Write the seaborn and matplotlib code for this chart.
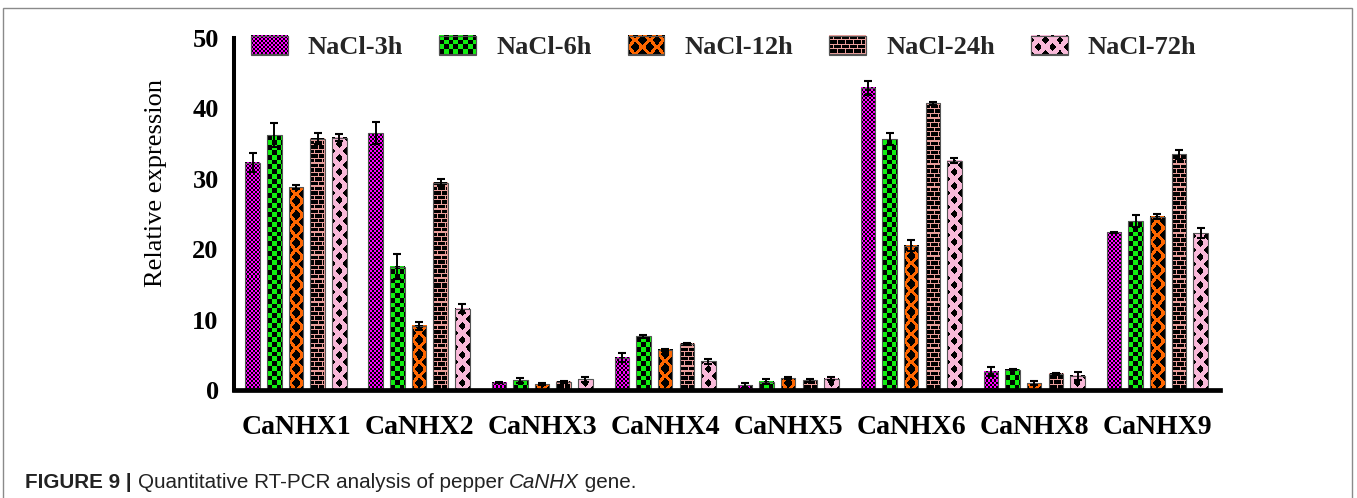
import numpy as np
import pandas as pd
import matplotlib
matplotlib.use("Agg")
import matplotlib.pyplot as plt
import seaborn as sns
from matplotlib import colors as mcolors
from matplotlib import font_manager as fm
from matplotlib.patches import Rectangle

# ---------------- data ----------------
genes = ["CaNHX1", "CaNHX2", "CaNHX3", "CaNHX4", "CaNHX5", "CaNHX6", "CaNHX8", "CaNHX9"]
treatments = ["NaCl-3h", "NaCl-6h", "NaCl-12h", "NaCl-24h", "NaCl-72h"]

nacl_3h = [32.3, 36.5, 1.05, 4.6, 0.65, 42.9, 2.6, 22.4]
nacl_6h = [36.2, 17.5, 1.35, 7.65, 1.2, 35.6, 2.9, 24.0]
nacl_12h = [28.8, 9.1, 0.85, 5.7, 1.7, 20.5, 0.95, 24.6]
nacl_24h = [35.7, 29.45, 1.15, 6.55, 1.35, 40.75, 2.3, 33.5]
nacl_72h = [35.85, 11.55, 1.5, 4.05, 1.6, 32.55, 2.05, 22.3]

sd_3h = [1.4, 1.55, 0.1, 0.6, 0.3, 1.05, 0.6, 0.05]
sd_6h = [1.7, 1.8, 0.33, 0.2, 0.33, 0.85, 0.1, 0.9]
sd_12h = [0.25, 0.6, 0.1, 0.15, 0.2, 0.75, 0.28, 0.35]
sd_24h = [0.8, 0.5, 0.1, 0.1, 0.15, 0.2, 0.15, 0.65]
sd_72h = [0.55, 0.6, 0.3, 0.3, 0.2, 0.35, 0.57, 0.7]

yticks = [0, 10, 20, 30, 40, 50]

values = [nacl_3h, nacl_6h, nacl_12h, nacl_24h, nacl_72h]
errors = [sd_3h, sd_6h, sd_12h, sd_24h, sd_72h]

colors = ["#ff00ff", "#11ee11", "#ff6600", "#eba09c", "#f9b9d9"]
patterns = ["fine", "checker", "diamond_big", "brick", "diamond"]

df = pd.DataFrame(
    {
        "gene": np.tile(genes, len(treatments)),
        "treatment": np.repeat(treatments, len(genes)),
        "value": np.concatenate(values),
    }
)

# ---------------- style ----------------
sns.set_style("white")
plt.rcParams["font.family"] = ["Liberation Serif", "DejaVu Serif"]

avail = {f.name for f in fm.fontManager.ttflist}
cap_family = "Liberation Sans Narrow" if "Liberation Sans Narrow" in avail else "Liberation Sans"

W, H = 1357, 498
AX_L, AX_R, AX_B, AX_T = 234, 1220, 390, 38
fig = plt.figure(figsize=(W / 100, H / 100), dpi=100)
fig.patch.set_facecolor("white")
ax = fig.add_axes([AX_L / W, 1 - AX_B / H, (AX_R - AX_L) / W, (AX_B - AX_T) / H])

sns.barplot(
    data=df, x="gene", y="value", hue="treatment", palette=colors,
    width=0.88, gap=0.33, errorbar=None, saturation=1,
    edgecolor="#555555", linewidth=0.8, ax=ax,
)

XLIM = (-0.504, 7.51)
ax.set_xlim(*XLIM)
ax.set_ylim(0, 50)

bar_containers = list(ax.containers)


def pattern(kind, color, w, h):
    c = np.array(mcolors.to_rgb(color))
    yy, xx = np.mgrid[0:h, 0:w].astype(float) + 0.5
    if kind == "fine":
        s = 2.0
        col = ((xx // s).astype(int) + (yy // s).astype(int)) % 2 == 0
    elif kind == "checker":
        s = 4.8
        col = ((xx // s).astype(int) + (yy // s).astype(int)) % 2 == 1
    elif kind in ("diamond", "diamond_big"):
        P, V = 14.5, 14.0
        rx, ry = (3.6, 4.2) if kind == "diamond" else (4.6, 5.4)
        dxc = np.abs((xx % P) - P / 2)
        dxe = np.abs(((xx + P / 2) % P) - P / 2)
        dyc = np.abs((yy % V) - V / 2)
        dye = np.abs(((yy + V / 2) % V) - V / 2)
        black = (dxc / rx + dyc / ry < 1) | (dxe / rx + dye / ry < 1)
        col = ~black
    else:  # brick
        R, B = 4.6, 8.0
        row = (yy // R).astype(int)
        mh = (yy % R) < 1.2
        off = np.where(row % 2 == 0, 0.0, B / 2)
        mv = ((xx + off) % B) < 1.2
        col = mh | mv | (xx < 1) | (xx > w - 1)
    img = np.zeros((h, w, 3))
    img[col] = c
    return img


# pattern overlays on bars (geometry taken from seaborn's bars)
for i, cont in enumerate(bar_containers):
    for bar in cont:
        x0, y0 = bar.get_x(), bar.get_y()
        bw, bh = bar.get_width(), bar.get_height()
        bb = bar.get_window_extent()
        wpx, hpx = max(int(round(bb.width)), 1), max(int(round(bb.height)), 1)
        img = pattern(patterns[i], colors[i], wpx, hpx)
        ax.imshow(img, extent=(x0, x0 + bw, y0, y0 + bh), origin="lower",
                  aspect="auto", interpolation="nearest", zorder=1.5)
        bar.set_facecolor("none")
        bar.set_zorder(1.6)

# error bars
for i, cont in enumerate(bar_containers):
    xs = [b.get_x() + b.get_width() / 2 for b in cont]
    ys = [b.get_height() for b in cont]
    ax.errorbar(xs, ys, yerr=errors[i], fmt="none", ecolor="black",
                elinewidth=1.4, capsize=3, capthick=1.5, zorder=3)

ax.set_xlim(*XLIM)
ax.set_ylim(0, 50)

# axes styling
for s in ["top", "right"]:
    ax.spines[s].set_visible(False)
ax.spines["left"].set_linewidth(2.9)
ax.spines["bottom"].set_linewidth(3.4)
ax.spines["left"].set_color("black")
ax.spines["bottom"].set_color("black")
ax.set_yticks(yticks)
ax.set_yticklabels([str(t) for t in yticks])
ax.tick_params(axis="y", direction="out", length=8, width=2.5, pad=3,
               labelsize=19, colors="black")
ax.tick_params(axis="x", length=0, pad=18, labelsize=20, colors="black")
for lab in ax.get_yticklabels() + ax.get_xticklabels():
    lab.set_fontweight("bold")
ax.set_xlabel("")
ax.set_ylabel("Relative expression", fontsize=19, color="black")
ax.yaxis.set_label_coords((167 - AX_L) / (AX_R - AX_L), 0.588)

# legend
handles, labels = ax.get_legend_handles_labels()
if ax.get_legend() is not None:
    ax.get_legend().remove()
leg = ax.legend(
    handles, labels, ncol=5, loc="center left",
    bbox_to_anchor=((251 - AX_L) / (AX_R - AX_L), (AX_B - 47.5) / (AX_B - AX_T)),
    frameon=False, borderpad=0, borderaxespad=0, handlelength=1.40,
    handleheight=0.72, handletextpad=0.76, columnspacing=1.36,
    prop={"family": "Liberation Serif", "weight": "bold", "size": 19},
)

# figure frame
fig.add_artist(Rectangle((3 / W, -0.05), (1352 - 3) / W, 1.05 - 8 / H,
                         transform=fig.transFigure, fill=False,
                         edgecolor="#8a8a8a", linewidth=1.0))

fig.canvas.draw()
renderer = fig.canvas.get_renderer()

# pattern legend handles
for i, p in enumerate(leg.get_patches()):
    bb = p.get_window_extent(renderer)
    wpx, hpx = int(round(bb.width)), int(round(bb.height))
    img = pattern(patterns[i], colors[i], wpx, hpx)
    fig.figimage(img, xo=int(round(bb.x0)), yo=int(round(bb.y0)),
                 origin="lower", zorder=10)
    fig.add_artist(Rectangle((bb.x0 / W, bb.y0 / H), bb.width / W, bb.height / H,
                             transform=fig.transFigure, fill=False,
                             edgecolor="#555555", linewidth=0.8, zorder=11))

# caption
parts = [
    ("FIGURE 9", "bold", "normal"),
    (" | ", "bold", "normal"),
    ("Quantitative RT-PCR analysis of pepper ", "normal", "normal"),
    ("CaNHX", "normal", "italic"),
    (" gene.", "normal", "normal"),
]
xpix = 25
for txt, wt, st in parts:
    t = fig.text(xpix / W, 1 - 488 / H, txt, fontsize=14.9, fontweight=wt,
                 fontstyle=st, family=[cap_family, "DejaVu Sans"],
                 color="#222222", va="baseline", ha="left")
    fig.canvas.draw()
    xpix = t.get_window_extent(renderer).x1

fig.savefig("out.png", dpi=100, facecolor="white")
